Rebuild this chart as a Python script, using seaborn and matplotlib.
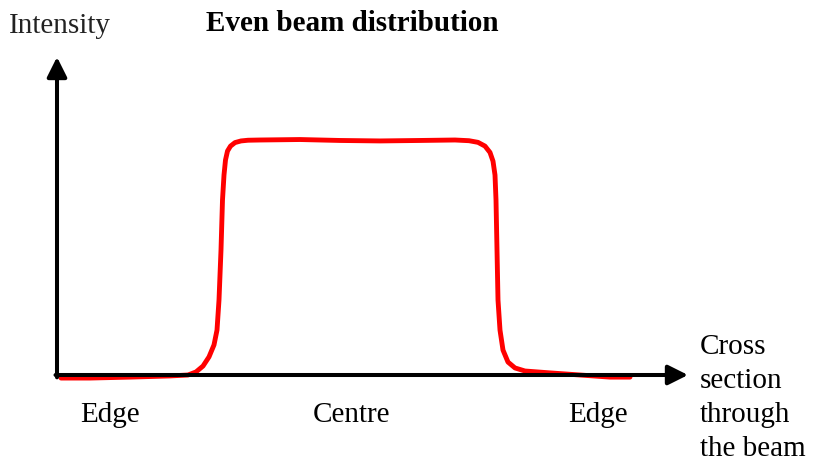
import matplotlib
matplotlib.use("Agg")
import matplotlib.pyplot as plt
import seaborn as sns
import pandas as pd

# Beam profile: position across the beam and relative intensity (plateau = 100)
position = [4, 33, 73, 113, 131, 139, 146, 152, 157, 160, 162, 164, 165.5, 167,
            168.5, 170.5, 173.5, 178, 184, 191, 203, 243, 283, 323, 363, 398,
            412, 421, 428, 433, 436, 438, 439, 440, 441, 443, 446, 451, 458, 468,
            493, 523, 553, 573]
intensity = [-1.3, -1.3, -0.9, -0.4, 0.0, 1.3, 3.8, 7.7, 12.8, 19.1, 31.9, 53.2,
             74.5, 85.1, 91.5, 95.3, 97.4, 98.9, 99.6, 99.9, 100.0, 100.2, 99.8,
             99.6, 99.8, 100.0, 99.7, 99.0, 97.4, 94.7, 91.0, 85.1, 74.5, 53.2,
             31.9, 19.1, 10.6, 5.5, 3.0, 1.7, 0.9, 0.0, -0.9, -0.9]

region_labels = ["Edge", "Centre", "Edge"]
region_positions = [53, 295, 541]
x_axis_label = ["Cross", "section", "through", "the beam"]

profile = pd.DataFrame({"position": position, "intensity": intensity})

sns.set_theme(style="white")
plt.rcParams["font.family"] = ["Liberation Serif", "DejaVu Serif"]

W, H = 814, 463
fig = plt.figure(figsize=(W / 100, H / 100), dpi=100)
ax = fig.add_axes([0, 0, 1, 1])

# data-to-canvas scaling: 1 position unit = 1 px, 1 intensity unit = 2.35 px
x0_px, y0_px, ky = 57, 375, 2.35
ax.set_xlim(-x0_px, W - x0_px)
ax.set_ylim(-(H - y0_px) / ky, y0_px / ky)
ax.axis("off")

sns.lineplot(data=profile, x="position", y="intensity", ax=ax, color="#ff0000",
             linewidth=3.5, sort=False, estimator=None, zorder=2,
             solid_capstyle="round", solid_joinstyle="round")

# axes drawn as arrows
arrow = dict(arrowstyle="-|>,head_length=0.6,head_width=0.3", lw=2.9,
             color="black", mutation_scale=20, shrinkA=0, shrinkB=0)
ax.annotate("", xy=(0, (y0_px - 57) / ky), xytext=(0, -1.0),
            arrowprops=arrow, zorder=3)
ax.annotate("", xy=(688 - x0_px, 0), xytext=(-1.5, 0),
            arrowprops=arrow, zorder=3)

fs = 21
ax.text(60 - x0_px, (y0_px - 33) / ky, "Intensity", fontsize=fs, ha="center",
        va="baseline", color="#222222")
ax.text(352 - x0_px, (y0_px - 31) / ky, "Even beam distribution", fontsize=fs,
        fontweight="bold", ha="center", va="baseline", color="black")

for lab, pos in zip(region_labels, region_positions):
    ax.text(pos, (y0_px - 422) / ky, lab, fontsize=fs, ha="center",
            va="baseline", color="black")

for i, line in enumerate(x_axis_label):
    ax.text(700 - x0_px, (y0_px - (354 + 34 * i)) / ky, line, fontsize=fs,
            ha="left", va="baseline", color="black")

fig.savefig("out.png", dpi=100, facecolor="white")
